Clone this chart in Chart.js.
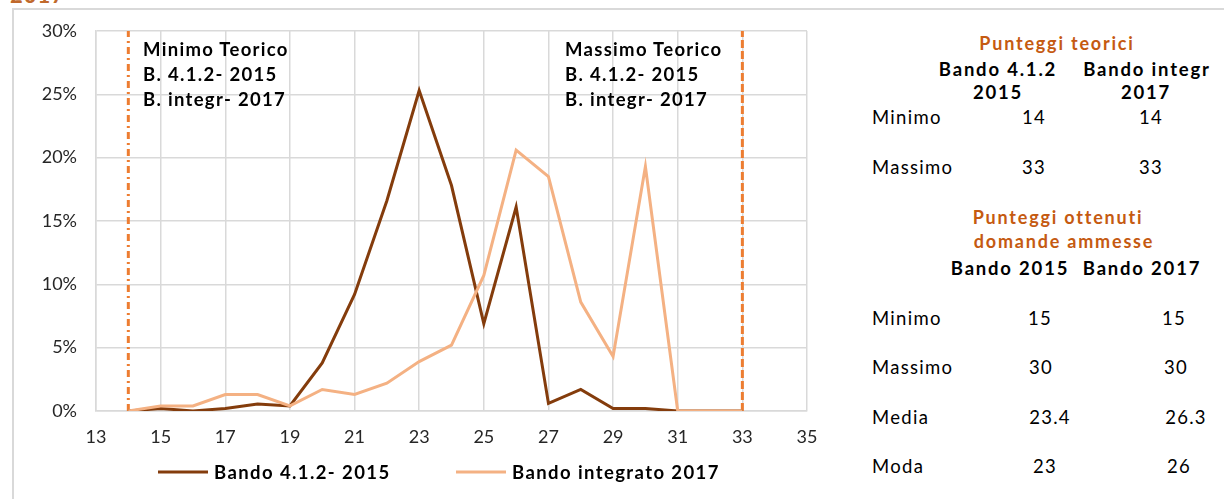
<!DOCTYPE html>
<html>
<head>
<meta charset="utf-8">
<script src="https://cdn.jsdelivr.net/npm/chart.js@4/dist/chart.umd.min.js"></script>
<style>
  html,body{margin:0;padding:0;background:#fff;}
  body{width:1224px;height:499px;overflow:hidden;position:relative;font-family:Lato,"Open Sans",sans-serif;color:#000;}
  #frame{position:absolute;left:12px;top:8px;width:1400px;height:700px;border-top:2px solid #d9d9d9;border-left:2px solid #d9d9d9;box-sizing:border-box;}
  #wrap{position:absolute;left:0;top:0;width:840px;height:499px;}
  .ann{position:absolute;font-weight:700;font-size:18.5px;line-height:25px;letter-spacing:1.3px;color:#000;white-space:nowrap;}
  .t{position:absolute;white-space:nowrap;transform:translate(-50%,-50%);font-size:18.5px;line-height:22px;letter-spacing:1.2px;}
  .l{position:absolute;white-space:nowrap;transform:translate(0,-50%);font-size:18.5px;line-height:22px;letter-spacing:1.3px;}
  .b{font-weight:700;letter-spacing:1.8px;}
  .o{color:#c55a11;font-weight:700;font-size:18px;letter-spacing:1.8px;}
  #cut{position:absolute;left:10px;top:-16px;font-weight:700;font-size:22px;line-height:22px;letter-spacing:1px;color:#c0692c;}
</style>
</head>
<body>
<div id="cut">2017</div>
<div id="frame"></div>
<div id="wrap"><canvas id="c" width="840" height="499"></canvas></div>
<div class="ann" style="left:143px;top:37px;">Minimo Teorico<br>B. 4.1.2- 2015<br>B. integr- 2017</div>
<div class="ann" style="left:565px;top:37px;">Massimo Teorico<br>B. 4.1.2- 2015<br>B. integr- 2017</div>
<div id="table"></div>
<script>
// ---- data ----
const scores = [14,15,16,17,18,19,20,21,22,23,24,25,26,27,28,29,30,31,32,33];
const bando2015 = [0,0.2,0,0.2,0.55,0.4,3.8,9.2,16.6,25.3,17.8,6.9,16.1,0.6,1.7,0.2,0.2,0,0,0];
const bando2017 = [0,0.4,0.4,1.3,1.3,0.4,1.7,1.3,2.2,3.9,5.2,10.7,20.6,18.5,8.6,4.3,19.3,0,0,0];
const seriesNames = ["Bando 4.1.2- 2015","Bando integrato 2017"];
const seriesColors = ["#843c0c","#f4b183"];
const theoreticalMin = 14;
const theoreticalMax = 33;
const xTickValues = [13,15,17,19,21,23,25,27,29,31,33,35];
const yTickValues = [0,5,10,15,20,25,30];

// table data
const teoriciHeaders = [["Bando 4.1.2","2015"],["Bando integr","2017"]];
const teoriciRows = ["Minimo","Massimo"];
const teorici2015 = [14,33];
const teorici2017 = [14,33];
const ottenutiHeaders = ["Bando 2015","Bando 2017"];
const ottenutiRows = ["Minimo","Massimo","Media","Moda"];
const ottenuti2015 = ["15","30","23.4","23"];
const ottenuti2017 = ["15","30","26.3","26"];

// ---- table ----
(function(){
  const T = document.getElementById('table');
  function add(cls, text, x, y){
    const d = document.createElement('div');
    d.className = cls; d.textContent = text;
    d.style.left = x + 'px'; d.style.top = y + 'px';
    T.appendChild(d);
  }
  add('t o','Punteggi teorici',1057,43);
  add('t b',teoriciHeaders[0][0],998,69);
  add('t b',teoriciHeaders[0][1],998,92);
  add('t b',teoriciHeaders[1][0],1147,69);
  add('t b',teoriciHeaders[1][1],1146,92);
  const ty1 = [117,167];
  teoriciRows.forEach((r,i)=>{
    add('l',r,872,ty1[i]);
    add('t',String(teorici2015[i]),1034,ty1[i]);
    add('t',String(teorici2017[i]),1151,ty1[i]);
  });
  add('t o','Punteggi ottenuti',1058,217);
  add('t o','domande ammesse',1064,241);
  add('t b',ottenutiHeaders[0],1010,268);
  add('t b',ottenutiHeaders[1],1142,268);
  const ty2 = [318,367,417,466];
  const cx1 = [1040,1041,1050,1045];
  const cx2 = [1174,1176,1186,1179];
  ottenutiRows.forEach((r,i)=>{
    add('l',r,872,ty2[i]);
    add('t',ottenuti2015[i],cx1[i],ty2[i]);
    add('t',ottenuti2017[i],cx2[i],ty2[i]);
  });
})();

// ---- chart ----
const toPts = arr => scores.map((s,i)=>({x:s,y:arr[i]}));
const legendPlugin = {
  id:'customLegend',
  afterDraw(chart){
    const ctx = chart.ctx;
    const xs = [158,456];
    const y = 472;
    ctx.save();
    ctx.font = '700 18.5px Lato';
    try { ctx.letterSpacing = '1.4px'; } catch(e) {}
    ctx.textBaseline = 'middle';
    ctx.textAlign = 'left';
    seriesNames.forEach((n,i)=>{
      ctx.strokeStyle = seriesColors[i];
      ctx.lineWidth = 3;
      ctx.beginPath();
      ctx.moveTo(xs[i], y); ctx.lineTo(xs[i]+50, y);
      ctx.stroke();
      ctx.fillStyle = '#000';
      ctx.fillText(n, xs[i]+56, y+1);
    });
    ctx.restore();
  }
};

new Chart(document.getElementById('c'), {
  type:'line',
  data:{
    datasets:[
      {label:seriesNames[0], data:toPts(bando2015), borderColor:seriesColors[0], backgroundColor:seriesColors[0], borderWidth:3, pointRadius:0, tension:0, order:1},
      {label:seriesNames[1], data:toPts(bando2017), borderColor:seriesColors[1], backgroundColor:seriesColors[1], borderWidth:3, pointRadius:0, tension:0, order:0},
      {label:'min', data:[{x:theoreticalMin,y:yTickValues[0]},{x:theoreticalMin,y:yTickValues[yTickValues.length-1]}], borderColor:'#ed7d31', borderWidth:3, borderDash:[7,4,2,4], pointRadius:0, order:2},
      {label:'max', data:[{x:theoreticalMax,y:yTickValues[0]},{x:theoreticalMax,y:yTickValues[yTickValues.length-1]}], borderColor:'#ed7d31', borderWidth:3, borderDash:[8,3], pointRadius:0, order:2}
    ]
  },
  options:{
    responsive:false,
    animation:false,
    devicePixelRatio:1,
    layout:{padding:{left:0,top:31,right:33,bottom:48}},
    plugins:{legend:{display:false},tooltip:{enabled:false}},
    scales:{
      x:{
        type:'linear',
        min:xTickValues[0], max:xTickValues[xTickValues.length-1],
        afterBuildTicks:s=>{s.ticks = xTickValues.map(v=>({value:v}));},
        afterFit:s=>{s.height = 40;},
        grid:{color:'#d9d9d9',lineWidth:1.5,drawTicks:false},
        border:{color:'#d9d9d9',width:1.5},
        ticks:{padding:15,color:'#262626',font:{family:'Lato',size:18},maxRotation:0,autoSkip:false}
      },
      y:{
        min:yTickValues[0], max:yTickValues[yTickValues.length-1],
        afterBuildTicks:s=>{s.ticks = yTickValues.map(v=>({value:v}));},
        afterFit:s=>{s.width = 96;},
        grid:{color:'#d9d9d9',lineWidth:1.5,drawTicks:false},
        border:{color:'#d9d9d9',width:1.5},
        ticks:{padding:19,color:'#262626',font:{family:'Lato',size:18},callback:v=>v+'%'}
      }
    }
  },
  plugins:[legendPlugin]
});
</script>
</body>
</html>
